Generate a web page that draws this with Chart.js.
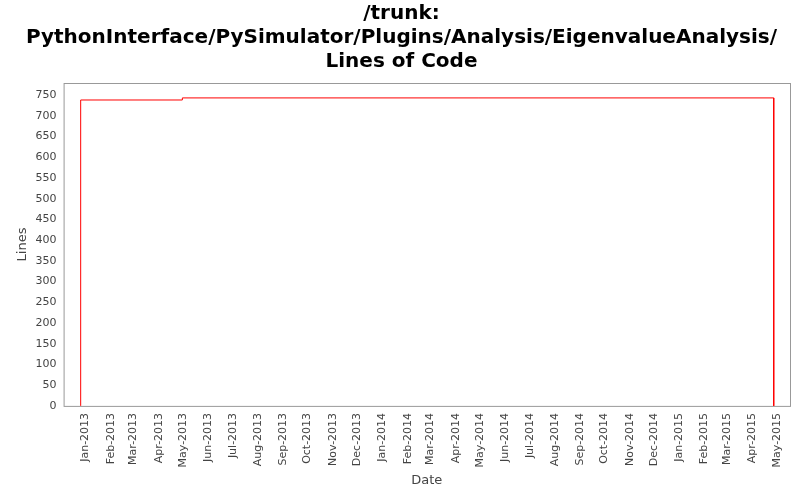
<!DOCTYPE html>
<html>
<head>
<meta charset="UTF-8">
<script src="https://cdn.jsdelivr.net/npm/chart.js"></script>
<style>
  html, body { margin: 0; padding: 0; background: #fff; }
  #wrap { width: 800px; height: 500px; }
</style>
</head>
<body>
<div id="wrap"><canvas id="loc"></canvas></div>
<script>
// step points of the line count (date, lines)
const dates = ['2012-12-26', '2012-12-26', '2013-04-30', '2013-04-30', '2015-04-27', '2015-04-27'];
const lines = [0, 738, 738, 743, 743, 0];
const monthNames = ['Jan', 'Feb', 'Mar', 'Apr', 'May', 'Jun', 'Jul', 'Aug', 'Sep', 'Oct', 'Nov', 'Dec'];

const ts = d => Date.parse(d + 'T00:00:00Z');
const points = dates.map((d, i) => ({ x: ts(d), y: lines[i] }));

// month ticks Jan-2013 .. May-2015
const monthTicks = [];
for (let y = 2013, m = 0; y < 2015 || (y === 2015 && m <= 4); m++) {
    if (m === 12) { m = 0; y++; }
    if (y === 2015 && m > 4) break;
    monthTicks.push(Date.UTC(y, m, 1));
}

const frame = {
    id: 'frame',
    beforeDraw(chart) {
        const a = chart.chartArea, c = chart.ctx;
        c.save();
        c.strokeStyle = '#999';
        c.lineWidth = 1;
        c.strokeRect(a.left + 0.5, a.top + 0.5, a.right - a.left, a.bottom - a.top);
        c.restore();
    }
};

new Chart(document.getElementById('loc'), {
    type: 'line',
    data: {
        datasets: [{
            data: points,
            borderColor: '#ff0000',
            borderWidth: 1,
            pointRadius: 0,
            tension: 0
        }]
    },
    options: {
        responsive: true,
        maintainAspectRatio: false,
        animation: false,
        layout: { padding: { left: 13, right: 10, top: 2, bottom: 10 } },
        plugins: {
            legend: { display: false },
            tooltip: { enabled: false },
            title: {
                display: true,
                text: ['/trunk:', 'PythonInterface/PySimulator/Plugins/Analysis/EigenvalueAnalysis/', 'Lines of Code'],
                font: { family: 'DejaVu Sans', size: 20, weight: 'bold' },
                color: '#000',
                lineHeight: 1.1,
                padding: { top: 0, bottom: 9 }
            }
        },
        scales: {
            x: {
                type: 'linear',
                min: ts('2012-12-05'),
                max: ts('2015-05-17'),
                afterBuildTicks: axis => { axis.ticks = monthTicks.map(v => ({ value: v })); },
                ticks: {
                    autoSkip: false,
                    maxRotation: 90,
                    minRotation: 90,
                    font: { family: 'DejaVu Sans', size: 11 },
                    color: '#444',
                    callback: v => {
                        const d = new Date(v);
                        return monthNames[d.getUTCMonth()] + '-' + d.getUTCFullYear();
                    }
                },
                grid: { display: false, drawTicks: true, tickLength: 4, color: '#999' },
                border: { display: false },
                title: { display: true, text: 'Date', font: { family: 'DejaVu Sans', size: 13 }, color: '#444', padding: 2 }
            },
            y: {
                min: 0,
                max: 779,
                afterBuildTicks: axis => {
                    const t = [];
                    for (let v = 0; v <= 750; v += 50) t.push({ value: v });
                    axis.ticks = t;
                },
                ticks: { font: { family: 'DejaVu Sans', size: 11 }, color: '#444' },
                grid: { display: false, drawTicks: true, tickLength: 4, color: '#999' },
                border: { display: false },
                title: { display: true, text: 'Lines', font: { family: 'DejaVu Sans', size: 13 }, color: '#444', padding: 2 }
            }
        }
    },
    plugins: [frame]
});
</script>
</body>
</html>
